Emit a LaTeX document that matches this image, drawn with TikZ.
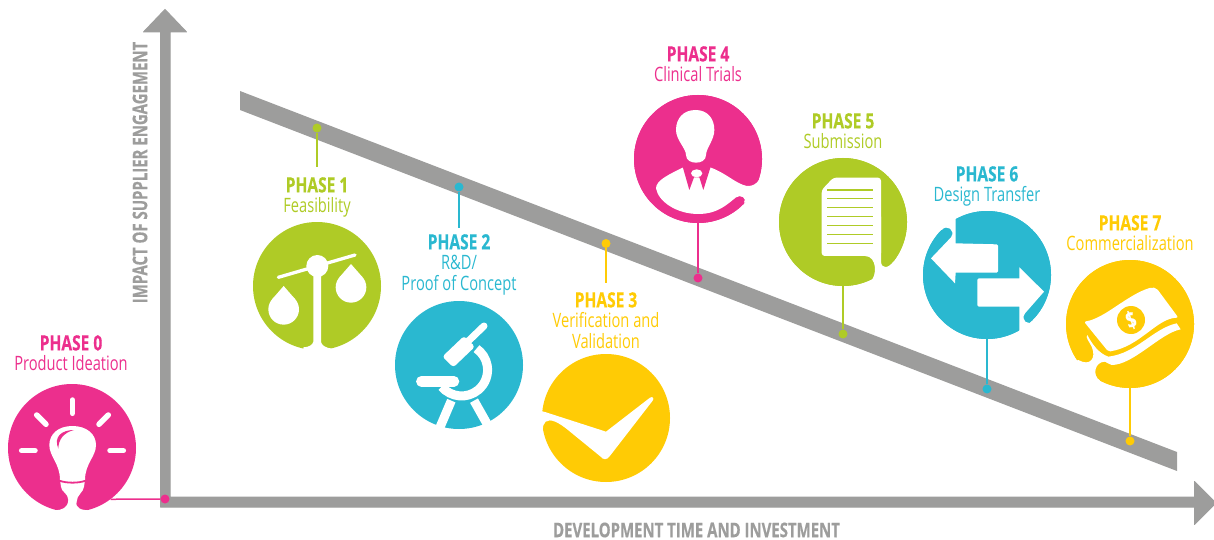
\documentclass[tikz,border=0pt]{standalone}
\usepackage{fontspec}
\setmainfont[FakeStretch=0.74,BoldFeatures={FakeBold=0.5}]{Open Sans}
\definecolor{phasepink}{HTML}{EC2F8D}
\definecolor{phasegreen}{HTML}{AFCB26}
\definecolor{phaseblue}{HTML}{2AB8D0}
\definecolor{phaseyellow}{HTML}{FFCB05}
\definecolor{axisgray}{HTML}{9D9D9C}
\newcommand{\phasehead}[1]{{\fontsize{21}{20.5}\selectfont\bfseries #1}}
\tikzset{
  phasedisc/.style={circle,fill=#1,minimum size=128pt,inner sep=0pt},
  phasedot/.style={circle,fill=#1,minimum size=9pt,inner sep=0pt},
  leader/.style={draw=#1,line width=1.5pt},
  phaselabel/.style={text=#1,align=center,anchor=north,inner sep=0pt,font=\fontsize{19.8}{20.5}\selectfont},
  axislabel/.style={text=axisgray,inner sep=0pt,font=\fontsize{20.2}{20}\selectfont\bfseries},
  icon/.style 2 args={shift={(#1,#2)},x=0.33333pt,y=-0.33333pt},
}
\begin{document}
\begin{tikzpicture}[x=1pt,y=-1pt]
      \useasboundingbox (0,0) rectangle (1214,540);
      % bar and axes
      \fill[axisgray] (240,91) -- (1177,452) -- (1177,471) -- (240,110) -- cycle;
      \fill[axisgray,draw=axisgray,line width=1pt,line join=round]
          (160.5,32) -- (143.5,32) -- (165,9.5) -- (186.5,32) -- (170,32) -- (170,497)
          -- (1194.5,497) -- (1194.5,481.5) -- (1216,503) -- (1194.5,524.5) -- (1194.5,507)
          -- (160.5,507) -- cycle;
      \node[axislabel,rotate=90] (axisv) at (140,172.5) {IMPACT OF SUPPLIER ENGAGEMENT};
      \node[axislabel] (axish) at (696.5,530) {DEVELOPMENT TIME AND INVESTMENT};
      % discs, dots
      \node[phasedisc=phasepink] (disc0) at (72,448) {};
      \node[phasedisc=phasegreen] (disc1) at (317,286) {};
      \node[phasedisc=phaseblue] (disc2) at (459,365) {};
      \node[phasedisc=phaseyellow] (disc3) at (606,418) {};
      \node[phasedisc=phasepink] (disc4) at (698,159) {};
      \node[phasedisc=phasegreen] (disc5) at (843,222) {};
      \node[phasedisc=phaseblue] (disc6) at (987,275) {};
      \node[phasedisc=phaseyellow] (disc7) at (1130,324) {};
      \node[phasedot=phasepink] (dot0) at (165,499) {};
      \node[phasedot=phasegreen] (dot1) at (317,128) {};
      \node[phasedot=phaseblue] (dot2) at (459,187) {};
      \node[phasedot=phaseyellow] (dot3) at (606,243.5) {};
      \node[phasedot=phasepink] (dot4) at (698,278) {};
      \node[phasedot=phasegreen] (dot5) at (843,334) {};
      \node[phasedot=phaseblue] (dot6) at (987,389) {};
      \node[phasedot=phaseyellow] (dot7) at (1130,441) {};
      % labels
      \node[phaselabel=phasepink] (label0) at (71,335) {\phasehead{PHASE 0}\\Product Ideation};
      \node[phaselabel=phasegreen] (label1) at (317,177) {\phasehead{PHASE 1}\\Feasibility};
      \node[phaselabel=phaseblue] (label2) at (459,234) {\phasehead{PHASE 2}\\R\&D/\\Proof of Concept};
      \node[phaselabel=phaseyellow] (label3) at (606,292) {\phasehead{PHASE 3}\\Verification and\\Validation};
      \node[phaselabel=phasepink] (label4) at (698,46) {\phasehead{PHASE 4}\\Clinical Trials};
      \node[phaselabel=phasegreen] (label5) at (843,113) {\phasehead{PHASE 5}\\Submission};
      \node[phaselabel=phaseblue] (label6) at (987,166) {\phasehead{PHASE 6}\\Design Transfer};
      \node[phaselabel=phaseyellow] (label7) at (1130,215) {\phasehead{PHASE 7}\\Commercialization};
      % leaders
      \draw[leader=phasepink] (disc0.-53) -- (dot0);
      \draw[leader=phasegreen] (dot1) -- ([yshift=10pt]label1.north);
      \draw[leader=phaseblue] (dot2) -- ([yshift=6pt]label2.north);
      \draw[leader=phaseyellow] (dot3) -- ([yshift=9pt]label3.north);
      \draw[leader=phasepink] (disc4) -- (dot4);
      \draw[leader=phasegreen] (disc5) -- (dot5);
      \draw[leader=phaseblue] (disc6) -- (dot6);
      \draw[leader=phaseyellow] (disc7) -- (dot7);
      \node[phasedisc=phasepink] at (disc4) {};
      \node[phasedisc=phasegreen] at (disc5) {};
      \node[phasedisc=phaseblue] at (disc6) {};
      \node[phasedisc=phaseyellow] at (disc7) {};
      % phase 0, bulb
      \begin{scope}[icon={0}{330}]
        \foreach \xa/\ya/\xb/\yb in {217/210/217/250,110/255/138/283,325/255/297/283,65/362/105/362,330/362/370/362}
        \draw[white,line width=5.5pt,line cap=round] (\xa,\ya) -- (\xb,\yb);
        \fill[white] (217,288) .. controls (175,288) and (148,312) .. (148,345)
            .. controls (148,380) and (180,400) .. (180,450) -- (183,470)
            .. controls (183,485) and (205,490) .. (205,510)
            .. controls (203,535) and (185,540) .. (165,541) -- (165,560) -- (270,560) -- (270,541)
            .. controls (245,541) and (225,535) .. (230,515)
            .. controls (230,495) and (252,485) .. (252,470) -- (255,450)
            .. controls (255,400) and (288,380) .. (288,345)
            .. controls (288,312) and (260,288) .. (217,288) -- cycle;
        \fill[phasepink] (222,300) .. controls (185,300) and (160,320) .. (175,356)
            .. controls (175,330) and (190,308) .. (222,300) -- cycle;
        \draw[phasepink,line width=1.8pt] (178,452) .. controls (200,460) and (235,460) .. (257,452);
      \end{scope}
      % phase 1, scales
      \begin{scope}[icon={240}{210}]
        \fill[white] (220,170) -- (220,395) .. controls (218,405) and (205,412) .. (190,412) -- (190,425) -- (275,425) -- (275,416)
            .. controls (258,414) and (243,405) .. (243,395) -- (243,170) -- cycle;
        \draw[white,line width=3.3pt,line cap=round] (115,202) -- (345,135);
        \fill[white] (232,168) circle[radius=33];
        \foreach \xa/\ya in {131/298,333/232}{
          \fill[white] (\xa,\ya) circle[radius=46];
          \fill[white] (\xa,\ya-70) -- (\xa-34.7,\ya-30.2) -- (\xa,\ya) -- (\xa+34.7,\ya-30.2) -- cycle;
        }
      \end{scope}
      % phase 2, microscope
      \begin{scope}[icon={240}{210}]
        \draw[white,line width=9pt] (605,530) arc[start angle=140,end angle=-55,radius=78];
        \fill[white,rounded corners=3pt] (607,440) -- (640,472) -- (705,410) -- (672,378) -- cycle;
        \draw[white,line width=7pt,line cap=round] (680,398) -- (732,348);
        \draw[white,line width=10.5pt,line cap=round] (544,514) -- (642,514);
        \draw[white,line width=9pt] (634,572) -- (590,675);
        \draw[white,line width=9pt] (702,572) -- (760,675);
      \end{scope}
      % phase 3, tick
      \begin{scope}[icon={530}{90}]
        \fill[white] (20,960) -- (45,966) -- (228,1025) -- (360,923)
            .. controls (368,918) and (373,925) .. (368,932) -- (238,1100)
            .. controls (230,1110) and (220,1110) .. (212,1100) -- (120,1025)
            .. controls (85,995) and (60,985) .. (47,995) .. controls (40,1002) and (38,1010) .. (38,1020)
            -- (20,1020) -- cycle;
      \end{scope}
      % phase 4, person
      \begin{scope}[icon={530}{90}]
        \fill[white] (497,60) .. controls (460,60) and (438,85) .. (438,120)
            .. controls (438,150) and (468,175) .. (468,195)
            .. controls (468,212) and (485,218) .. (498,218)
            .. controls (512,218) and (528,212) .. (528,195)
            .. controls (528,175) and (553,150) .. (553,120)
            .. controls (553,85) and (532,60) .. (497,60) -- cycle;
        \fill[white] (460,232) .. controls (420,252) and (378,270) .. (378,295)
            .. controls (385,335) and (440,372) .. (505,372)
            .. controls (565,372) and (595,340) .. (618,322)
            .. controls (632,312) and (652,325) .. (642,338)
            -- (720,340) -- (720,240) -- (697,240)
            .. controls (693,275) and (672,290) .. (650,288)
            .. controls (615,280) and (590,250) .. (540,232) -- cycle;
        \fill[phasepink] (458,230) -- (478,300) -- (492,262) -- (508,262) -- (520,300) -- (542,230) -- cycle;
        \fill[white] (500,250) ellipse[x radius=17,y radius=12];
      \end{scope}
      % phase 5, page
      \begin{scope}[icon={770}{150}]
        \fill[white,rounded corners=3pt] (155,120) -- (190,83) -- (333,83) -- (333,318) -- (155,318) -- cycle;
        \fill[white] (333,200) -- (333,335) .. controls (335,358) and (355,355) .. (370,335) -- (420,340) -- (420,420) -- (300,395)
            .. controls (322,380) and (322,318) .. (285,318) -- (200,318) -- cycle;
        \foreach \yy in {120,146,173,199,226,253,280}
        \draw[phasegreen,line width=1.3pt] (172,\yy) -- (310,\yy);
      \end{scope}
      % phase 6, arrows
      \begin{scope}[icon={770}{150}]
        \fill[white] (557,280) -- (557,205) -- (500,170) -- (490,230) -- (515,240)
            .. controls (530,222) and (558,240) .. (543,262) -- (483,325) -- (555,400) -- (557,368)
            -- (680,368) -- (684,364) -- (684,287) -- (680,283) -- cycle;
        \fill[white] (748,385) -- (748,352) -- (822,425) -- (765,490)
            .. controls (750,510) and (775,532) .. (792,510) -- (830,540) -- (790,590) -- (748,545)
            -- (748,470) -- (626,470) -- (622,466) -- (622,389) -- (626,385) -- cycle;
      \end{scope}
      % phase 7, banknote
      \begin{scope}[icon={1050}{250}]
        \fill[white] (112,255) .. controls (125,280) and (145,310) .. (175,320)
            .. controls (260,310) and (310,235) .. (380,220) -- (392,238)
            .. controls (330,250) and (250,345) .. (185,345)
            .. controls (175,345) and (172,335) .. (165,335)
            .. controls (135,335) and (125,375) .. (150,392)
            -- (100,420) -- (60,340) -- (85,330)
            .. controls (120,350) and (140,325) .. (125,290)
            .. controls (118,275) and (105,262) .. (112,255) -- cycle;
        \fill[white,rounded corners=2pt] (102,215) .. controls (165,205) and (230,135) .. (305,112)
            -- (320,115) -- (385,203) .. controls (320,205) and (270,290) .. (175,305) -- cycle;
        \node[circle,fill=phaseyellow,minimum size=28pt,inner sep=0pt] (coin) at (243,210) {};
        \node[text=white,rotate=20,inner sep=0pt,font=\fontsize{23}{23}\selectfont\bfseries] (dollar) at (coin) {\$};
      \end{scope}
\end{tikzpicture}
\end{document}
